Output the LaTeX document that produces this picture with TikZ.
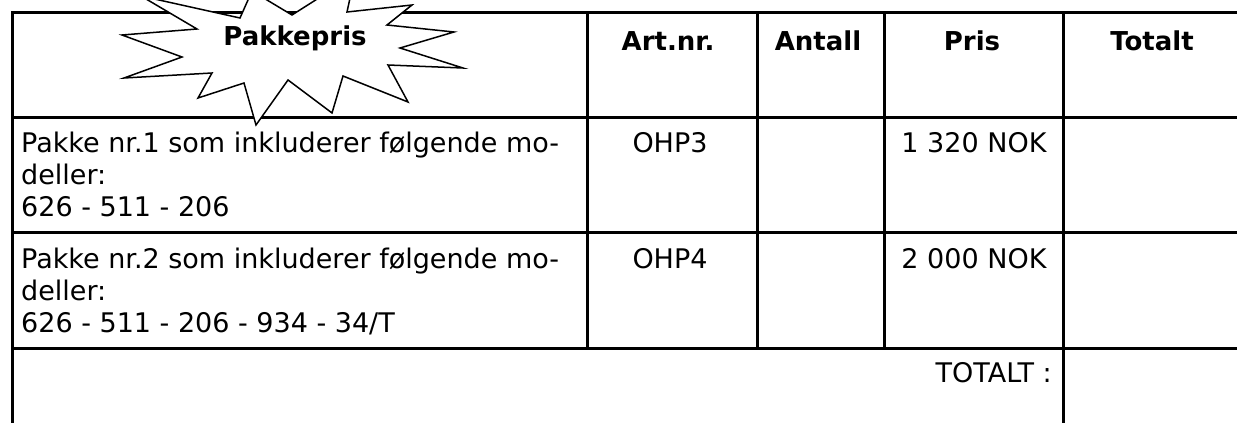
\documentclass[tikz,border=0pt]{standalone}
\usepackage{fontspec}
\setmainfont{DejaVu Sans}
\begin{document}
\begin{tikzpicture}[x=1pt,y=-1pt,
  grid/.style={line width=3pt,line cap=rect},
  star/.style={line width=1.5pt,draw=black,fill=white,line join=miter},
  txt/.style={inner sep=0pt,font=\fontsize{27}{32}\selectfont},
  head/.style={inner sep=0pt,font=\fontsize{26}{32}\selectfont\bfseries}]
\useasboundingbox (0,0) rectangle (1237,423);
\clip (0,0) rectangle (1237,423);
\fill[white] (0,0) rectangle (1237,423);
% horizontal rules
\draw[grid] (12,12) -- (1240,12);
\draw[grid] (12,117) -- (1240,117);
\draw[grid] (12,232) -- (1240,232);
\draw[grid] (12,348) -- (1240,348);
% vertical rules
\draw[grid] (12,12) -- (12,430);
\draw[grid] (587,12) -- (587,348);
\draw[grid] (757,12) -- (757,348);
\draw[grid] (884,12) -- (884,348);
\draw[grid] (1063,12) -- (1063,430);
% starburst
\draw[star] (141,-4) -- (240,18) -- (252,-9) -- (292,15) -- (355,-25) -- (347,12)
  -- (412,5) -- (387,25) -- (454,32) -- (400,48) -- (463,68) -- (388,65)
  -- (408,102) -- (343,76) -- (332,113) -- (288,80) -- (256,125) -- (244,83)
  -- (198,98) -- (212,73) -- (124,78) -- (182,57) -- (122,35) -- (197,29) -- cycle;
% header
\node[head,anchor=base] (hpakke) at (295,45) {Pakkepris};
\node[head,anchor=base] (hart) at (668,50) {Art.nr.};
\node[head,anchor=base] (hant) at (818,50) {Antall};
\node[head,anchor=base] (hpris) at (972,50) {Pris};
\node[head,anchor=base] (htot) at (1152,50) {Totalt};
% row 1
\node[txt,anchor=base west] (r1a) at (21,152) {Pakke nr.1 som inkluderer følgende mo-};
\node[txt,anchor=base west] (r1b) at (21,184) {deller:};
\node[txt,anchor=base west] (r1c) at (21,216) {626 - 511 - 206};
\node[txt,anchor=base] (r1art) at (670,152) {OHP3};
\node[txt,anchor=base] (r1pris) at (974,152) {1 320 NOK};
% row 2
\node[txt,anchor=base west] (r2a) at (21,268) {Pakke nr.2 som inkluderer følgende mo-};
\node[txt,anchor=base west] (r2b) at (21,300) {deller:};
\node[txt,anchor=base west] (r2c) at (21,332) {626 - 511 - 206 - 934 - 34/T};
\node[txt,anchor=base] (r2art) at (670,268) {OHP4};
\node[txt,anchor=base] (r2pris) at (974,268) {2 000 NOK};
% total row
\node[txt,anchor=base east] (total) at (1052,382) {TOTALT :};
\end{tikzpicture}
\end{document}
